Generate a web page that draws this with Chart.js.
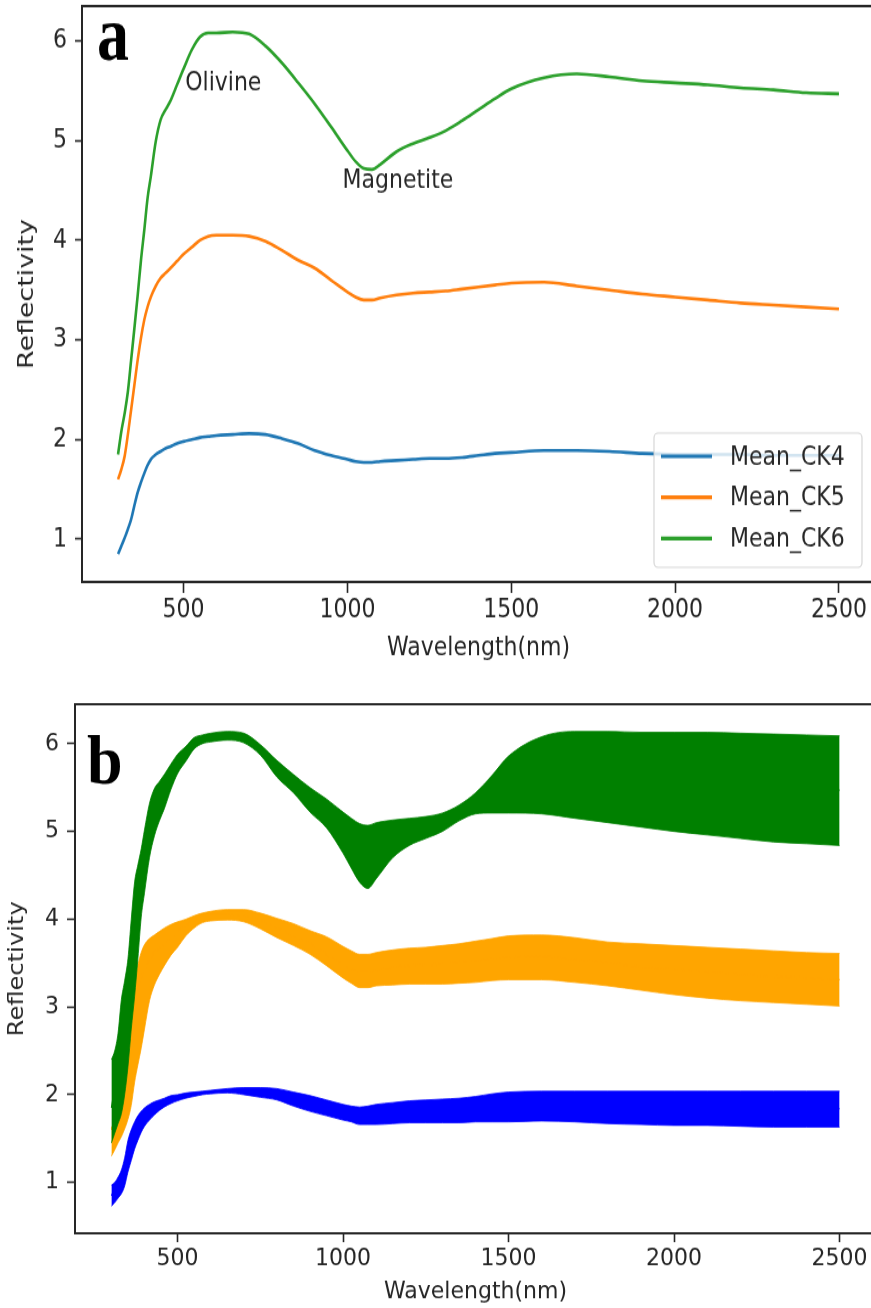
<!DOCTYPE html>
<html>
<head>
<meta charset="utf-8">
<script src="https://cdn.jsdelivr.net/npm/chart.js@4.4.1/dist/chart.umd.min.js"></script>
<style>
  html, body { margin: 0; padding: 0; background: #fff; overflow: hidden; }
  body { width: 871px; height: 1308px; position: relative; }
  .panel { position: absolute; left: 0; transform-origin: 0 0; }
  /* the original figure was stretched vertically, so the canvases are too */
  #wrapA { top: 0; transform: scaleY(1.22); }
  #wrapB { top: 680px; transform: scaleY(1.1); }
</style>
</head>
<body>
<div class="panel" id="wrapA"><canvas id="chartA" width="900" height="549"></canvas></div>
<div class="panel" id="wrapB"><canvas id="chartB" width="900" height="571"></canvas></div>
<script>
// wavelength grid (nm)
const wavelengths = [300, 310, 320, 330, 340, 350, 360, 370, 380, 390, 400, 415, 430, 445, 460, 480,
  500, 525, 550, 575, 600, 650, 700, 750, 800, 850, 900, 950, 1000, 1025, 1050, 1075, 1100,
  1150, 1200, 1250, 1300, 1350, 1400, 1450, 1500, 1600, 1700, 1800, 1900, 2000, 2100, 2200, 2300, 2400, 2500];

// mean spectra (panel a)
const meanCK4 = [0.85, 0.93, 1.01, 1.10, 1.20, 1.34, 1.47, 1.57, 1.66, 1.74, 1.80, 1.85, 1.88, 1.91, 1.93, 1.96,
  1.98, 2.00, 2.02, 2.03, 2.04, 2.05, 2.06, 2.05, 2.01, 1.96, 1.89, 1.84, 1.80, 1.78, 1.77, 1.77, 1.78,
  1.79, 1.80, 1.81, 1.81, 1.82, 1.84, 1.86, 1.87, 1.89, 1.89, 1.88, 1.86, 1.85, 1.85, 1.85, 1.84, 1.84, 1.84];
const meanCK5 = [1.60, 1.70, 1.83, 2.05, 2.30, 2.55, 2.80, 3.02, 3.20, 3.33, 3.43, 3.54, 3.62, 3.67, 3.72, 3.79,
  3.86, 3.93, 4.00, 4.04, 4.05, 4.05, 4.04, 3.99, 3.90, 3.80, 3.72, 3.60, 3.48, 3.43, 3.40, 3.40, 3.42,
  3.45, 3.47, 3.48, 3.49, 3.51, 3.53, 3.55, 3.57, 3.58, 3.54, 3.50, 3.46, 3.43, 3.40, 3.37, 3.35, 3.33, 3.31];
const meanCK6 = [1.85, 2.08, 2.26, 2.48, 2.80, 3.12, 3.45, 3.80, 4.10, 4.42, 4.64, 4.99, 5.21, 5.31, 5.40, 5.56,
  5.72, 5.91, 6.04, 6.08, 6.08, 6.09, 6.07, 5.95, 5.78, 5.58, 5.37, 5.14, 4.90, 4.79, 4.72, 4.71, 4.76,
  4.89, 4.97, 5.03, 5.10, 5.20, 5.31, 5.42, 5.52, 5.63, 5.67, 5.64, 5.60, 5.58, 5.56, 5.53, 5.51, 5.48, 5.47];

// spread envelopes (panel b)
const upperCK4 = [0.97, 1.00, 1.06, 1.14, 1.28, 1.48, 1.60, 1.69, 1.76, 1.81, 1.85, 1.89, 1.92, 1.94, 1.96, 1.99,
  2.00, 2.02, 2.03, 2.04, 2.05, 2.07, 2.08, 2.08, 2.07, 2.03, 1.99, 1.94, 1.89, 1.87, 1.86, 1.87, 1.89,
  1.91, 1.93, 1.94, 1.95, 1.96, 1.98, 2.01, 2.03, 2.04, 2.04, 2.04, 2.04, 2.04, 2.04, 2.04, 2.04, 2.04, 2.04];
const lowerCK4 = [0.73, 0.77, 0.82, 0.87, 0.96, 1.12, 1.25, 1.38, 1.48, 1.57, 1.64, 1.71, 1.77, 1.82, 1.86, 1.90,
  1.93, 1.96, 1.98, 2.00, 2.01, 2.02, 2.00, 1.97, 1.94, 1.87, 1.81, 1.76, 1.71, 1.69, 1.66, 1.66, 1.66,
  1.67, 1.68, 1.68, 1.68, 1.68, 1.69, 1.69, 1.69, 1.70, 1.69, 1.67, 1.66, 1.65, 1.65, 1.64, 1.63, 1.63, 1.63];
const upperCK5 = [1.62, 1.72, 1.95, 2.27, 2.52, 2.75, 2.98, 3.28, 3.48, 3.62, 3.71, 3.78, 3.82, 3.86, 3.90, 3.94,
  3.97, 4.00, 4.04, 4.07, 4.09, 4.11, 4.11, 4.07, 4.01, 3.95, 3.87, 3.80, 3.69, 3.64, 3.60, 3.60, 3.62,
  3.65, 3.67, 3.68, 3.70, 3.72, 3.75, 3.78, 3.81, 3.82, 3.79, 3.74, 3.72, 3.70, 3.68, 3.66, 3.64, 3.62, 3.61];
const lowerCK5 = [1.30, 1.37, 1.45, 1.52, 1.61, 1.72, 1.88, 2.14, 2.34, 2.53, 2.75, 3.07, 3.25, 3.37, 3.47, 3.59,
  3.68, 3.81, 3.90, 3.96, 3.98, 3.99, 3.97, 3.89, 3.79, 3.70, 3.60, 3.47, 3.33, 3.27, 3.22, 3.22, 3.24,
  3.25, 3.26, 3.26, 3.26, 3.27, 3.28, 3.30, 3.31, 3.31, 3.28, 3.24, 3.19, 3.14, 3.10, 3.07, 3.05, 3.03, 3.01];
const upperCK6 = [2.40, 2.50, 2.70, 3.08, 3.30, 3.55, 4.00, 4.42, 4.62, 4.80, 5.02, 5.32, 5.49, 5.57, 5.65, 5.77,
  5.88, 5.97, 6.07, 6.10, 6.12, 6.14, 6.12, 5.99, 5.81, 5.65, 5.50, 5.37, 5.22, 5.15, 5.09, 5.07, 5.10,
  5.13, 5.15, 5.17, 5.21, 5.30, 5.44, 5.64, 5.86, 6.08, 6.14, 6.14, 6.13, 6.13, 6.13, 6.12, 6.11, 6.10, 6.09];
const lowerCK6 = [1.45, 1.56, 1.67, 1.78, 2.00, 2.32, 2.75, 3.12, 3.55, 4.02, 4.30, 4.70, 4.95, 5.12, 5.26, 5.48,
  5.66, 5.80, 5.94, 6.00, 6.02, 6.04, 6.01, 5.87, 5.62, 5.44, 5.22, 5.04, 4.75, 4.58, 4.42, 4.35, 4.46,
  4.70, 4.84, 4.92, 5.00, 5.12, 5.20, 5.21, 5.21, 5.20, 5.15, 5.10, 5.05, 5.00, 4.96, 4.92, 4.88, 4.86, 4.84];

const xTicks = [500, 1000, 1500, 2000, 2500];
const yTicks = [1, 2, 3, 4, 5, 6];

// text labels placed in data units
const notes = [
  { text: 'Olivine', x: 505, y: 5.51 },
  { text: 'Magnetite', x: 985, y: 4.52 }
];

const pts = ys => wavelengths.map((x, i) => ({ x: x, y: ys[i] }));
const TXT = '#262626';
const FONT = 'DejaVu Sans';

function line(label, ys, color, width) {
  return {
    label: label, data: pts(ys), borderColor: color, backgroundColor: color,
    borderWidth: width, pointRadius: 0, fill: false, cubicInterpolationMode: 'monotone'
  };
}

// mean line on top, then the filled spread between upper and lower
function band(name, upper, lower, mean, color) {
  const hi = line(name + ' max', upper, color, 0.8);
  hi.fill = '+1';
  return [line(name, mean, color, 1.2), hi, line(name + ' min', lower, color, 0.8)];
}

function makeScales(o) {
  return {
    x: {
      type: 'linear', min: 190, max: 2610,
      afterBuildTicks: s => { s.ticks = xTicks.map(v => ({ value: v })); },
      afterFit: s => { s.height = o.xHeight; s.paddingLeft = 0; s.paddingRight = 0; },
      grid: { display: true, drawOnChartArea: false, drawTicks: true, tickLength: o.tickX, tickWidth: 1.6, tickColor: TXT },
      border: { display: false },
      ticks: { autoSkip: false, maxRotation: 0, padding: o.padX, color: TXT, font: { family: FONT, size: 22 }, callback: v => String(v) },
      title: { display: true, text: 'Wavelength(nm)', color: TXT, font: { family: FONT, size: 22 }, padding: { top: 0, bottom: o.titleX } }
    },
    y: {
      type: 'linear', min: o.yMin, max: o.yMax,
      afterBuildTicks: s => { s.ticks = yTicks.map(v => ({ value: v })); },
      afterFit: s => { s.width = o.yWidth; s.paddingTop = 0; s.paddingBottom = 0; },
      grid: { display: true, drawOnChartArea: false, drawTicks: true, tickLength: o.tickY, tickWidth: 1.6, tickColor: TXT },
      border: { display: false },
      ticks: { autoSkip: false, padding: o.padY, color: TXT, font: { family: FONT, size: 22 }, callback: v => String(v) },
      title: { display: true, text: 'Reflectivity', color: TXT, font: { family: FONT, size: 22 }, padding: { top: o.titleY, bottom: 0 } }
    }
  };
}

const decorPlugin = {
  id: 'decor',
  afterDatasetsDraw(chart, args, opts) {
    const { ctx, chartArea: a, scales: { x, y } } = chart;
    ctx.save();
    // axes frame
    ctx.strokeStyle = TXT;
    ctx.lineWidth = 2;
    ctx.strokeRect(a.left, a.top, a.right - a.left, a.bottom - a.top);

    ctx.fillStyle = TXT;
    ctx.font = '22px "' + FONT + '"';
    ctx.textBaseline = 'alphabetic';
    ctx.textAlign = 'left';
    (opts.notes || []).forEach(n => ctx.fillText(n.text, x.getPixelForValue(n.x), y.getPixelForValue(n.y)));

    // panel letter
    ctx.fillStyle = '#000';
    ctx.font = 'bold 64px "Liberation Serif"';
    ctx.fillText(opts.letter, a.left + opts.letterDx, a.top + opts.letterDy);

    if (opts.legend) {
      const w = 208, h = 110;
      const lx = a.right - 13 - w, ly = a.bottom - 12 - h;
      ctx.beginPath();
      ctx.roundRect(lx, ly, w, h, 4);
      ctx.fillStyle = 'rgba(255,255,255,0.8)';
      ctx.fill();
      ctx.strokeStyle = 'rgba(204,204,204,0.8)';
      ctx.lineWidth = 1.2;
      ctx.stroke();
      ctx.font = '22px "' + FONT + '"';
      ctx.textBaseline = 'middle';
      chart.data.datasets.forEach((ds, i) => {
        const cy = ly + 19 + i * 33.7;
        ctx.strokeStyle = ds.borderColor;
        ctx.lineWidth = 3.2;
        ctx.beginPath();
        ctx.moveTo(lx + 7, cy);
        ctx.lineTo(lx + 58, cy);
        ctx.stroke();
        ctx.fillStyle = TXT;
        ctx.fillText(ds.label, lx + 76, cy + 1);
      });
    }
    ctx.restore();
  }
};

new Chart(document.getElementById('chartA'), {
  type: 'line',
  data: {
    datasets: [
      line('Mean_CK4', meanCK4, '#1f77b4', 2.6),
      line('Mean_CK5', meanCK5, '#ff7f0e', 2.6),
      line('Mean_CK6', meanCK6, '#2ca02c', 2.6)
    ]
  },
  options: {
    responsive: false, animation: false, devicePixelRatio: 1,
    layout: { padding: { top: 5, right: 25, bottom: 0, left: 0 } },
    scales: makeScales({ xHeight: 72, yWidth: 82, yMin: 0.57, yMax: 6.35, tickX: 9, tickY: 7, padX: 1, padY: 8, titleX: 5, titleY: 14 }),
    plugins: {
      legend: { display: false }, tooltip: { enabled: false },
      decor: { letter: 'a', letterDx: 15, letterDy: 44, notes: notes, legend: true }
    }
  },
  plugins: [decorPlugin]
});

new Chart(document.getElementById('chartB'), {
  type: 'line',
  data: {
    datasets: [].concat(
      band('CK6', upperCK6, lowerCK6, meanCK6, '#008000'),
      band('CK5', upperCK5, lowerCK5, meanCK5, '#ffa500'),
      band('CK4', upperCK4, lowerCK4, meanCK4, '#0000ff')
    )
  },
  options: {
    responsive: false, animation: false, devicePixelRatio: 1,
    layout: { padding: { top: 22, right: 24, bottom: 0, left: 0 } },
    scales: makeScales({ xHeight: 68, yWidth: 75, yMin: 0.42, yMax: 6.45, tickX: 8, tickY: 8, padX: 2, padY: 8, titleX: 2, titleY: 4 }),
    plugins: {
      legend: { display: false }, tooltip: { enabled: false }, filler: { propagate: false },
      decor: { letter: 'b', letterDx: 12, letterDy: 72, notes: [], legend: false }
    }
  },
  plugins: [decorPlugin]
});
</script>
</body>
</html>
